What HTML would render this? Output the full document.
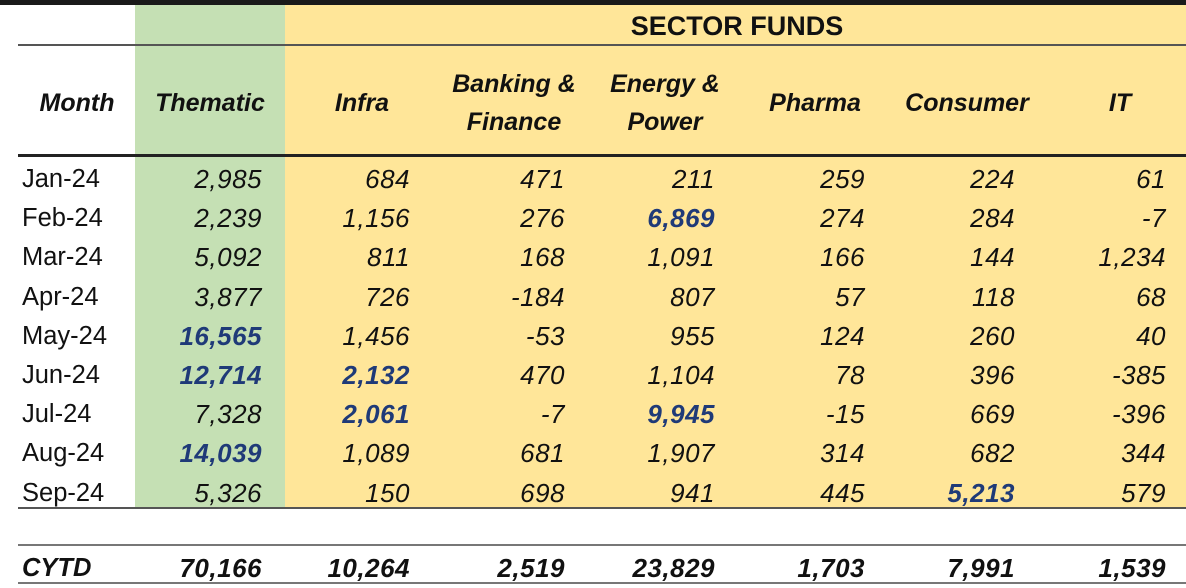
<!DOCTYPE html>
<html><head><meta charset="utf-8"><style>
body{margin:0;width:1186px;height:586px;overflow:hidden;background:#fff;font-family:"Liberation Sans",sans-serif;position:relative}
div{position:absolute}
.t{white-space:nowrap;color:#111}
.h{font-weight:bold;font-style:italic;font-size:25px;text-align:center;line-height:38px}
.n{font-style:italic;font-size:26px;text-align:right;line-height:39px;letter-spacing:0.5px}
.m{font-size:25.5px;line-height:39px;left:22px}
</style></head><body>
<div style="left:0;top:0;width:1186px;height:5px;background:#1a1a1a"></div>
<div style="left:135px;top:5px;width:150px;height:503px;background:#c5e0b4"></div>
<div style="left:285px;top:5px;width:901px;height:503px;background:#ffe699"></div>
<div class="t" style="left:574px;width:326px;top:11px;text-align:center;font-weight:bold;font-size:27px">SECTOR FUNDS</div>
<div style="left:18px;top:44px;width:1168px;height:2px;background:#555"></div>
<div style="left:18px;top:154px;width:1168px;height:3px;background:#222"></div>
<div style="left:18px;top:507px;width:1168px;height:2px;background:#555"></div>
<div style="left:18px;top:544px;width:1168px;height:2px;background:#777"></div>
<div style="left:18px;top:582px;width:1168px;height:2px;background:#777"></div>
<div id="root"></div>
<script>
const headers=["Month","Thematic","Infra","Banking &amp;<br>Finance","Energy &amp;<br>Power","Pharma","Consumer","IT"];
const months=["Jan-24","Feb-24","Mar-24","Apr-24","May-24","Jun-24","Jul-24","Aug-24","Sep-24"];
const thematic=["2,985","2,239","5,092","3,877","16,565","12,714","7,328","14,039","5,326"];
const infra=["684","1,156","811","726","1,456","2,132","2,061","1,089","150"];
const banking=["471","276","168","-184","-53","470","-7","681","698"];
const energy=["211","6,869","1,091","807","955","1,104","9,945","1,907","941"];
const pharma=["259","274","166","57","124","78","-15","314","445"];
const consumer=["224","284","144","118","260","396","669","682","5,213"];
const it=["61","-7","1,234","68","40","-385","-396","344","579"];
const totals=["70,166","10,264","2,519","23,829","1,703","7,991","1,539"];
const highlights=["0-4","0-5","0-7","1-5","1-6","3-1","3-6","5-8"];
const cols=[thematic,infra,banking,energy,pharma,consumer,it];
const hCenters=[77,210,362,514,665,815,967,1120];
const rights=[262,410,565,715,865,1015,1166];
const root=document.getElementById('root');
headers.forEach((h,i)=>{const d=document.createElement('div');d.className='t h';


d.style.left=(hCenters[i]-90)+'px';d.style.width='180px';
const two=h.includes('<br>');d.style.top=(two?65:84)+'px';d.innerHTML=h;root.appendChild(d);});
months.forEach((m,r)=>{const y=160+r*39.2;
const d=document.createElement('div');d.className='t m';


d.style.top=y+'px';d.textContent=m;root.appendChild(d);
cols.forEach((c,ci)=>{const e=document.createElement('div');e.className='t n';


e.style.top=y+'px';e.style.left=(rights[ci]-150)+'px';e.style.width='150px';
if(highlights.includes(ci+'-'+r)){e.style.fontWeight='bold';e.style.color='#1f3a78';}
e.textContent=c[r];root.appendChild(e);});});
const ty=549;
const c=document.createElement('div');c.className='t m';


c.style.top=ty+'px';c.style.fontWeight='bold';c.style.fontStyle='italic';c.textContent='CYTD';root.appendChild(c);
totals.forEach((v,ci)=>{const e=document.createElement('div');e.className='t n';


e.style.top=ty+'px';e.style.left=(rights[ci]-150)+'px';e.style.width='150px';e.style.fontWeight='bold';
e.textContent=v;root.appendChild(e);});
</script>
</body></html>
